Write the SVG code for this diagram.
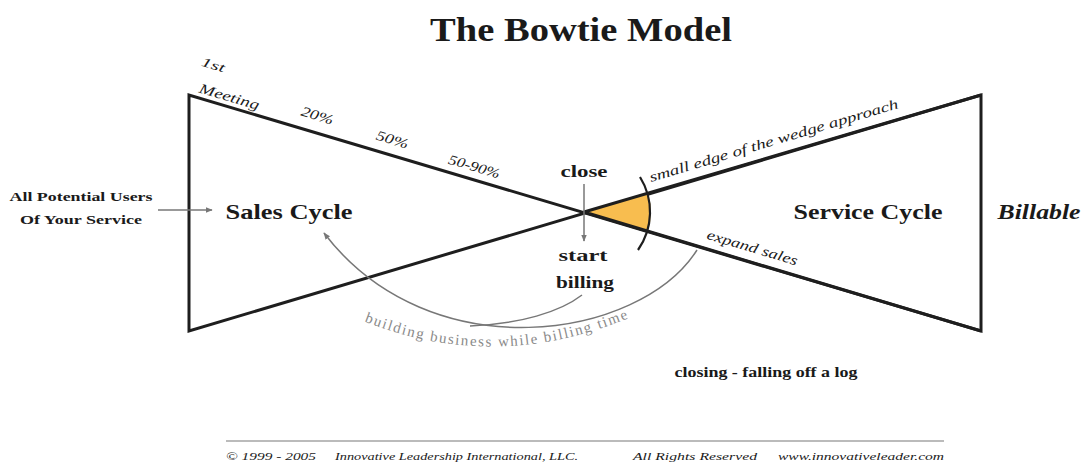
<svg xmlns="http://www.w3.org/2000/svg" width="1083" height="466" viewBox="0 0 1083 466">
<style>
.s{font-family:"Liberation Serif","DejaVu Serif",serif;fill:#1a1a1a}
.b{font-weight:bold}
.i{font-style:italic}
.g{fill:#8a8a8a}
.ln{stroke:#1e1e1e;stroke-width:3;fill:none;stroke-linejoin:miter}
.thin{stroke:#777;stroke-width:1.5;fill:none}
</style>
<defs>
<marker id="ah" viewBox="0 0 10 10" refX="9" refY="5" markerWidth="7" markerHeight="7" orient="auto" markerUnits="userSpaceOnUse">
<path d="M0,1 L10,5 L0,9 Z" fill="#777"/>
</marker>
<path id="curveText" d="M356,318 Q495,377 638,314"/>
</defs>
<rect width="1083" height="466" fill="#fff"/>
<text class="s b" x="581" y="41" font-size="34" text-anchor="middle" textLength="302" lengthAdjust="spacingAndGlyphs">The Bowtie Model</text>

<g id="bowtie">
<path class="ln" d="M189,95 L189,331 L981,95 L981,331 Z"/>
</g>
<g id="wedge">
<path d="M584,212 L648,193 A66,66 0 0 1 648,231 Z" fill="#F8BD4F" stroke="none"/>
<path d="M640,177 A66,66 0 0 1 638,250" fill="none" stroke="#1e1e1e" stroke-width="2.2"/>
<path class="ln" d="M584,212 L981,95 M584,212 L981,331"/>
</g>

<g id="connectors">
<line class="thin" x1="158" y1="210" x2="212" y2="210" marker-end="url(#ah)"/>
<line class="thin" x1="584" y1="184" x2="584" y2="241" marker-end="url(#ah)"/>
<path class="thin" d="M697,250 C640,340 430,372 324,233" marker-end="url(#ah)"/>
<path class="thin" d="M582,295 C560,312 520,324 470,326"/>
</g>

<g id="stage-labels">
<text class="s i" font-size="13" transform="translate(212,69) rotate(16.6)" text-anchor="middle" textLength="24" lengthAdjust="spacingAndGlyphs">1st</text>
<text class="s i" font-size="14" transform="translate(228,101) rotate(16.6)" text-anchor="middle" textLength="62" lengthAdjust="spacingAndGlyphs">Meeting</text>
<text class="s i" font-size="14" transform="translate(316,120) rotate(16.6)" text-anchor="middle" textLength="33" lengthAdjust="spacingAndGlyphs">20%</text>
<text class="s i" font-size="14" transform="translate(391,144) rotate(16.6)" text-anchor="middle" textLength="33" lengthAdjust="spacingAndGlyphs">50%</text>
<text class="s i" font-size="14" transform="translate(473,171) rotate(16.6)" text-anchor="middle" textLength="53" lengthAdjust="spacingAndGlyphs">50-90%</text>
</g>

<g id="close">
<text class="s b" x="584" y="177" font-size="17" text-anchor="middle" textLength="47" lengthAdjust="spacingAndGlyphs">close</text>
</g>
<g id="start-billing">
<text class="s b" x="583" y="261" font-size="17" text-anchor="middle" textLength="49" lengthAdjust="spacingAndGlyphs">start</text>
<text class="s b" x="585" y="288" font-size="17" text-anchor="middle" textLength="58" lengthAdjust="spacingAndGlyphs">billing</text>
</g>

<g id="wedge-label">
<text class="s i" font-size="14" transform="translate(775,145) rotate(-16.6)" text-anchor="middle" textLength="259" lengthAdjust="spacingAndGlyphs">small edge of the wedge approach</text>
</g>
<g id="expand-sales">
<text class="s i" font-size="14" transform="translate(751,252) rotate(16.6)" text-anchor="middle" textLength="94" lengthAdjust="spacingAndGlyphs">expand sales</text>
</g>

<g id="sales-cycle">
<text class="s b" x="289" y="219" font-size="21" text-anchor="middle" textLength="127" lengthAdjust="spacingAndGlyphs">Sales Cycle</text>
</g>
<g id="service-cycle">
<text class="s b" x="868" y="219" font-size="21" text-anchor="middle" textLength="149" lengthAdjust="spacingAndGlyphs">Service Cycle</text>
</g>
<g id="billable">
<text class="s b i" x="1039" y="219" font-size="21" text-anchor="middle" textLength="83" lengthAdjust="spacingAndGlyphs">Billable</text>
</g>

<g id="potential-users">
<text class="s b" x="81" y="201" font-size="13" text-anchor="middle" textLength="143" lengthAdjust="spacingAndGlyphs">All Potential Users</text>
<text class="s b" x="81" y="224" font-size="13" text-anchor="middle" textLength="122" lengthAdjust="spacingAndGlyphs">Of Your Service</text>
</g>

<g id="building-label">
<text class="s g" font-size="15" letter-spacing="1.6"><textPath href="#curveText" startOffset="50%" text-anchor="middle">building business while billing time</textPath></text>
</g>

<g id="closing-label">
<text class="s b" x="766" y="377" font-size="14" text-anchor="middle" textLength="183" lengthAdjust="spacingAndGlyphs">closing - falling off a log</text>
</g>

<g id="footer">
<line x1="226" y1="441" x2="944" y2="441" stroke="#bbb" stroke-width="2"/>
<text class="s i" x="226" y="460" font-size="10.5" fill="#444" textLength="90" lengthAdjust="spacingAndGlyphs">© 1999 - 2005</text>
<text class="s i" x="335" y="460" font-size="10.5" fill="#444" textLength="243" lengthAdjust="spacingAndGlyphs">Innovative Leadership International, LLC.</text>
<text class="s i" x="633" y="460" font-size="10.5" fill="#444" textLength="124" lengthAdjust="spacingAndGlyphs">All Rights Reserved</text>
<text class="s i" x="778" y="460" font-size="10.5" fill="#444" textLength="166" lengthAdjust="spacingAndGlyphs">www.innovativeleader.com</text>
</g>
</svg>
